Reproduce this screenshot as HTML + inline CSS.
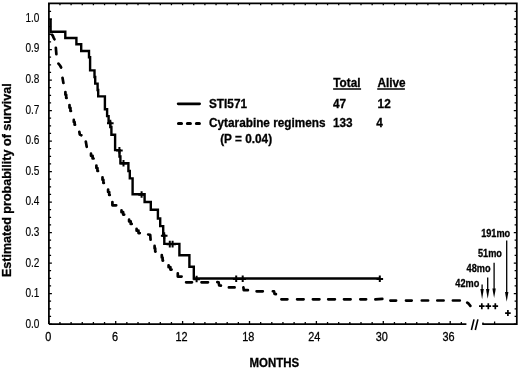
<!DOCTYPE html>
<html><head><meta charset="utf-8"><style>
html,body{margin:0;padding:0;background:#fff;width:520px;height:370px;overflow:hidden}
svg{display:block;position:absolute;left:0;top:0;filter:grayscale(1) blur(0.35px)}
text{font-family:"Liberation Sans",sans-serif;fill:#000}
text[font-weight="bold"]{stroke:#000;stroke-width:0.3px}
</style></head><body>
<svg width="520" height="370" viewBox="0 0 520 370">
<path d="M48.9,324.1 V3.4 H516.8 V324.1 H482.2 M466.4,324.1 H48.9" fill="none" stroke="#000" stroke-width="1.75"/>
<path d="M471.4,330 L474,319.4 M475.3,330 L477.9,319.4" stroke="#000" stroke-width="1.6" fill="none"/>
<path d="M48.8,324.1 v-3.0 M48.8,3.4 v1.9 M59.95,324.1 v-2.1 M59.95,3.4 v1.9 M71.1,324.1 v-2.1 M71.1,3.4 v1.9 M82.25,324.1 v-2.1 M82.25,3.4 v1.9 M93.4,324.1 v-2.1 M93.4,3.4 v1.9 M104.55,324.1 v-2.1 M104.55,3.4 v1.9 M115.7,324.1 v-3.0 M115.7,3.4 v1.9 M126.85,324.1 v-2.1 M126.85,3.4 v1.9 M138,324.1 v-2.1 M138,3.4 v1.9 M149.15,324.1 v-2.1 M149.15,3.4 v1.9 M160.3,324.1 v-2.1 M160.3,3.4 v1.9 M171.45,324.1 v-2.1 M171.45,3.4 v1.9 M182.6,324.1 v-3.0 M182.6,3.4 v1.9 M193.75,324.1 v-2.1 M193.75,3.4 v1.9 M204.9,324.1 v-2.1 M204.9,3.4 v1.9 M216.05,324.1 v-2.1 M216.05,3.4 v1.9 M227.2,324.1 v-2.1 M227.2,3.4 v1.9 M238.35,324.1 v-2.1 M238.35,3.4 v1.9 M249.5,324.1 v-3.0 M249.5,3.4 v1.9 M260.65,324.1 v-2.1 M260.65,3.4 v1.9 M271.8,324.1 v-2.1 M271.8,3.4 v1.9 M282.95,324.1 v-2.1 M282.95,3.4 v1.9 M294.1,324.1 v-2.1 M294.1,3.4 v1.9 M305.25,324.1 v-2.1 M305.25,3.4 v1.9 M316.4,324.1 v-3.0 M316.4,3.4 v1.9 M327.55,324.1 v-2.1 M327.55,3.4 v1.9 M338.7,324.1 v-2.1 M338.7,3.4 v1.9 M349.85,324.1 v-2.1 M349.85,3.4 v1.9 M361,324.1 v-2.1 M361,3.4 v1.9 M372.15,324.1 v-2.1 M372.15,3.4 v1.9 M383.3,324.1 v-3.0 M383.3,3.4 v1.9 M394.45,324.1 v-2.1 M394.45,3.4 v1.9 M405.6,324.1 v-2.1 M405.6,3.4 v1.9 M416.75,324.1 v-2.1 M416.75,3.4 v1.9 M427.9,324.1 v-2.1 M427.9,3.4 v1.9 M439.05,324.1 v-2.1 M439.05,3.4 v1.9 M450.2,324.1 v-3.0 M450.2,3.4 v1.9 M461.35,324.1 v-2.1 M461.35,3.4 v1.9 M472.5,3.4 v1.9 M483.65,3.4 v1.9 M494.8,3.4 v1.9 M505.95,3.4 v1.9 M494.6,324.1 v-2.6 M483,324.1 v-1.6 M48.9,324.1 h3.0 M516.8,324.1 h-3.0 M48.9,316.47 h2.2 M516.8,316.47 h-2.2 M48.9,308.85 h2.2 M516.8,308.85 h-2.2 M48.9,301.22 h2.2 M516.8,301.22 h-2.2 M48.9,293.59 h3.0 M516.8,293.59 h-3.0 M48.9,285.97 h2.2 M516.8,285.97 h-2.2 M48.9,278.34 h2.2 M516.8,278.34 h-2.2 M48.9,270.71 h2.2 M516.8,270.71 h-2.2 M48.9,263.08 h3.0 M516.8,263.08 h-3.0 M48.9,255.46 h2.2 M516.8,255.46 h-2.2 M48.9,247.83 h2.2 M516.8,247.83 h-2.2 M48.9,240.2 h2.2 M516.8,240.2 h-2.2 M48.9,232.58 h3.0 M516.8,232.58 h-3.0 M48.9,224.95 h2.2 M516.8,224.95 h-2.2 M48.9,217.32 h2.2 M516.8,217.32 h-2.2 M48.9,209.7 h2.2 M516.8,209.7 h-2.2 M48.9,202.07 h3.0 M516.8,202.07 h-3.0 M48.9,194.44 h2.2 M516.8,194.44 h-2.2 M48.9,186.81 h2.2 M516.8,186.81 h-2.2 M48.9,179.19 h2.2 M516.8,179.19 h-2.2 M48.9,171.56 h3.0 M516.8,171.56 h-3.0 M48.9,163.93 h2.2 M516.8,163.93 h-2.2 M48.9,156.31 h2.2 M516.8,156.31 h-2.2 M48.9,148.68 h2.2 M516.8,148.68 h-2.2 M48.9,141.05 h3.0 M516.8,141.05 h-3.0 M48.9,133.43 h2.2 M516.8,133.43 h-2.2 M48.9,125.8 h2.2 M516.8,125.8 h-2.2 M48.9,118.17 h2.2 M516.8,118.17 h-2.2 M48.9,110.54 h3.0 M516.8,110.54 h-3.0 M48.9,102.92 h2.2 M516.8,102.92 h-2.2 M48.9,95.29 h2.2 M516.8,95.29 h-2.2 M48.9,87.66 h2.2 M516.8,87.66 h-2.2 M48.9,80.04 h3.0 M516.8,80.04 h-3.0 M48.9,72.41 h2.2 M516.8,72.41 h-2.2 M48.9,64.78 h2.2 M516.8,64.78 h-2.2 M48.9,57.16 h2.2 M516.8,57.16 h-2.2 M48.9,49.53 h3.0 M516.8,49.53 h-3.0 M48.9,41.9 h2.2 M516.8,41.9 h-2.2 M48.9,34.27 h2.2 M516.8,34.27 h-2.2 M48.9,26.65 h2.2 M516.8,26.65 h-2.2 M48.9,19.02 h3.0 M516.8,19.02 h-3.0 M48.9,11.39 h2.2 M516.8,11.39 h-2.2" stroke="#000" stroke-width="1.3" fill="none"/>
<path d="M50.6,18.9 V31.7 H65.3 V38 H76.4 V44.3 H81.2 V51 H89 V57.2 H90.1 V70.4 H94.5 V77 H95.2 V83.6 H97.6 V90 H98.2 V96.4 H104.9 V109.2 H107.1 V116.1 H108.6 V122.7 H110.3 V127 H111.4 V134.8 H115.1 V150.1 H119.5 V156.5 H120.4 V163.2 H128.4 V171 H129.8 V178.4 H132.6 V194.3 H144.6 V202 H150.8 V209.8 H157.9 V218.5 H160.2 V226.1 H163.2 V235.5 H164.3 V243.9 H179.4 V255.2 H189.4 V266.7 H193.8 V278.5 H380" fill="none" stroke="#000" stroke-width="2.4" stroke-linejoin="miter"/>
<path d="M107,123.2 h6.6 M110.3,119.7 v6.6 M116.1,150.5 h6.6 M119.4,147 v6.6 M120.2,163.5 h6.6 M123.5,160 v6.6 M138.3,194.7 h6.6 M141.6,191.2 v6.6 M160.9,235.8 h6.6 M164.2,232.3 v6.6 M166.5,244.3 h6.6 M169.8,240.8 v6.6 M169.3,244.3 h6.6 M172.6,240.8 v6.6 M193.3,279.2 h6.6 M196.6,275.7 v6.6 M232.9,279 h6.6 M236.2,275.5 v6.6 M239.4,279 h6.6 M242.7,275.5 v6.6 M376.5,279 h6.6 M379.8,275.5 v6.6" stroke="#000" stroke-width="2.0" fill="none"/>
<path d="M51.98,34.66 L52.6,35.4 L53.6,37.6 L54.43,39.26 M55.85,47.8 L56.35,54.1 M58.47,63.57 L60,65.5 L61.11,67.48 M62.5,77.79 L63.4,83.01 M65.4,92.1 L65.4,94.75 L66.2,94.75 L66.2,98 L66.64,98 M69.5,105.1 L69.5,107.75 L70.45,107.75 L70.45,111 L70.97,111 M73.8,119.9 L73.8,122 L74.6,122 L74.6,124.7 L75.04,124.7 M79.31,131.79 L79.8,134.5 L81.36,135.24 M85.8,141.59 L86.7,146.81 M91,153.7 L91,155.8 L92.6,155.8 L92.6,158.5 L93.6,158.5 M96.4,165.6 L96.4,168 L97.45,168 L97.45,171 L98.03,171 M102.5,177.3 L102.5,179.85 L103.4,179.85 L103.4,183 L103.89,183 M108.1,189.6 L108.1,192 L109.2,192 L109.2,195 L109.8,195 M112.4,202.1 L112.4,205.3 L116.2,205.3 M121.5,210.4 L121.5,212.2 L123.15,212.2 L123.15,214.6 L124.2,214.6 M129.1,219.6 L129.1,221.45 L130.7,221.45 L130.7,223.9 L131.7,223.9 M136.6,228.8 L136.6,230.65 L138.5,230.65 L138.5,233.1 L139.8,233.1 M148.19,234.49 L150.2,234.8 L150.56,239.7 M154.6,245.9 L154.6,248.45 L155.2,248.45 L155.2,251.6 L155.53,251.6 M161.8,255.1 L161.8,257.55 L162.6,257.55 L162.6,260.6 L163.04,260.6 M168.6,265.3 L168.6,267.15 L170.4,267.15 L170.4,269.6 L171.6,269.6 M177.8,273.4 L177.8,276.6 L181.6,276.6 M186.1,282.3 L192,282.3 M201.5,282.3 L208,282.3 M217.29,282.09 L218.6,282.3 L219.2,285.4 L220.9,285.55 M228.9,287.4 L234.6,287.4 M243.39,287.39 L243.8,290.2 L247.9,290.2 M256.6,291.3 L262.8,291.3 M272.9,291.27 L274,291.4 L274.6,294 L275.9,294.14 M281.4,299.3 L287.4,299.3 M297.1,299.3 L303.6,299.3 M312.9,299.3 L319.4,299.3 M328.2,299.3 L334.9,299.3 M344,299.3 L350.6,299.3 M360.3,299.3 L366.1,299.3 M375.4,299.36 L382.3,298.94 M390.4,300.6 L396.1,300.6 M406,300.6 L411.7,300.6 M421.8,300.5 L428.1,300.5 M437.3,300.5 L443.6,300.5 M452.9,300.5 L459.8,300.5 M467.21,302.71 L468.5,303.5 L470.33,305.83" stroke="#000" stroke-width="2.7" stroke-linecap="round" stroke-linejoin="round" fill="none"/>
<path d="M482.1,284.4 V290" stroke="#000" stroke-width="1.3"/>
<path d="M480.4,289 L483.8,289 L482.1,299.2 Z" fill="#000"/>
<path d="M487.7,277.5 V290" stroke="#000" stroke-width="1.3"/>
<path d="M486,289 L489.4,289 L487.7,298.8 Z" fill="#000"/>
<path d="M494.1,262.8 V289.5" stroke="#000" stroke-width="1.3"/>
<path d="M492.4,288.5 L495.8,288.5 L494.1,298 Z" fill="#000"/>
<path d="M506.7,240.4 V293" stroke="#000" stroke-width="1.3"/>
<path d="M505,292 L508.4,292 L506.7,301.8 Z" fill="#000"/>
<path d="M479,306.2 h5.6 M481.8,303.2 v6 M485.5,306.2 h5.6 M488.3,303.2 v6 M492.5,306.2 h5.6 M495.3,303.2 v6 M505.1,313.1 h5.6 M507.9,310.1 v6" stroke="#000" stroke-width="1.7" fill="none"/>
<path d="M178.2,103.8 H199.6" stroke="#000" stroke-width="2.8" stroke-linecap="round"/>
<path d="M178.5,123.5 H181.5 M187.4,123.5 H190.4 M196.4,123.5 H199.4" stroke="#000" stroke-width="3.1" stroke-linecap="round"/>
<path d="M333.1,89 H361.1 M377.2,89 H404.9" stroke="#000" stroke-width="1.4"/>
<text x="0" y="0" transform="translate(333.2,86.9) scale(0.975,1)" font-size="12.1" font-weight="bold" text-anchor="start" >Total</text>
<text x="0" y="0" transform="translate(377.4,86.9) scale(0.975,1)" font-size="12.1" font-weight="bold" text-anchor="start" >Alive</text>
<text x="0" y="0" transform="translate(209,108.1) scale(0.975,1)" font-size="12.1" font-weight="bold" text-anchor="start" >STI571</text>
<text x="0" y="0" transform="translate(333,108.1) scale(0.975,1)" font-size="12.1" font-weight="bold" text-anchor="start" >47</text>
<text x="0" y="0" transform="translate(377.6,108.1) scale(0.975,1)" font-size="12.1" font-weight="bold" text-anchor="start" >12</text>
<text x="0" y="0" transform="translate(209,126.6) scale(0.975,1)" font-size="12.1" font-weight="bold" text-anchor="start" >Cytarabine regimens</text>
<text x="0" y="0" transform="translate(332.9,126.6) scale(0.975,1)" font-size="12.1" font-weight="bold" text-anchor="start" >133</text>
<text x="0" y="0" transform="translate(376.3,126.6) scale(0.975,1)" font-size="12.1" font-weight="bold" text-anchor="start" >4</text>
<text x="0" y="0" transform="translate(220.2,142.7) scale(0.975,1)" font-size="12.1" font-weight="bold" text-anchor="start" >(P = 0.04)</text>
<text x="0" y="0" transform="translate(39.4,21.7) scale(0.8,1)" font-size="12.6" font-weight="normal" text-anchor="end" stroke="#000" stroke-width="0.15">1.0</text>
<text x="0" y="0" transform="translate(39.4,52.31) scale(0.8,1)" font-size="12.6" font-weight="normal" text-anchor="end" stroke="#000" stroke-width="0.15">0.9</text>
<text x="0" y="0" transform="translate(39.4,82.92) scale(0.8,1)" font-size="12.6" font-weight="normal" text-anchor="end" stroke="#000" stroke-width="0.15">0.8</text>
<text x="0" y="0" transform="translate(39.4,113.53) scale(0.8,1)" font-size="12.6" font-weight="normal" text-anchor="end" stroke="#000" stroke-width="0.15">0.7</text>
<text x="0" y="0" transform="translate(39.4,144.14) scale(0.8,1)" font-size="12.6" font-weight="normal" text-anchor="end" stroke="#000" stroke-width="0.15">0.6</text>
<text x="0" y="0" transform="translate(39.4,174.75) scale(0.8,1)" font-size="12.6" font-weight="normal" text-anchor="end" stroke="#000" stroke-width="0.15">0.5</text>
<text x="0" y="0" transform="translate(39.4,205.36) scale(0.8,1)" font-size="12.6" font-weight="normal" text-anchor="end" stroke="#000" stroke-width="0.15">0.4</text>
<text x="0" y="0" transform="translate(39.4,235.97) scale(0.8,1)" font-size="12.6" font-weight="normal" text-anchor="end" stroke="#000" stroke-width="0.15">0.3</text>
<text x="0" y="0" transform="translate(39.4,266.58) scale(0.8,1)" font-size="12.6" font-weight="normal" text-anchor="end" stroke="#000" stroke-width="0.15">0.2</text>
<text x="0" y="0" transform="translate(39.4,297.19) scale(0.8,1)" font-size="12.6" font-weight="normal" text-anchor="end" stroke="#000" stroke-width="0.15">0.1</text>
<text x="0" y="0" transform="translate(39.4,327.8) scale(0.8,1)" font-size="12.6" font-weight="normal" text-anchor="end" stroke="#000" stroke-width="0.15">0.0</text>
<text x="0" y="0" transform="translate(48.3,341.3) scale(0.88,1)" font-size="12.4" font-weight="normal" text-anchor="middle" stroke="#000" stroke-width="0.3">0</text>
<text x="0" y="0" transform="translate(115,341.3) scale(0.88,1)" font-size="12.4" font-weight="normal" text-anchor="middle" stroke="#000" stroke-width="0.3">6</text>
<text x="0" y="0" transform="translate(181.5,341.3) scale(0.88,1)" font-size="12.4" font-weight="normal" text-anchor="middle" stroke="#000" stroke-width="0.3">12</text>
<text x="0" y="0" transform="translate(248.2,341.3) scale(0.88,1)" font-size="12.4" font-weight="normal" text-anchor="middle" stroke="#000" stroke-width="0.3">18</text>
<text x="0" y="0" transform="translate(314.2,341.3) scale(0.88,1)" font-size="12.4" font-weight="normal" text-anchor="middle" stroke="#000" stroke-width="0.3">24</text>
<text x="0" y="0" transform="translate(381.7,341.3) scale(0.88,1)" font-size="12.4" font-weight="normal" text-anchor="middle" stroke="#000" stroke-width="0.3">30</text>
<text x="0" y="0" transform="translate(448.5,341.3) scale(0.88,1)" font-size="12.4" font-weight="normal" text-anchor="middle" stroke="#000" stroke-width="0.3">36</text>
<text x="0" y="0" transform="translate(274.3,367.3) scale(0.94,1)" font-size="12.2" font-weight="bold" text-anchor="middle" >MONTHS</text>
<text x="0" y="0" font-size="12.55" font-weight="bold" text-anchor="middle" transform="translate(10.9,180.2) rotate(-90)">Estimated probability of survival</text>
<text x="0" y="0" transform="translate(510.2,236.5) scale(0.9,1)" font-size="10.2" font-weight="bold" text-anchor="end" >191mo</text>
<text x="0" y="0" transform="translate(501.9,257) scale(0.9,1)" font-size="10.2" font-weight="bold" text-anchor="end" >51mo</text>
<text x="0" y="0" transform="translate(490.5,271.9) scale(0.9,1)" font-size="10.2" font-weight="bold" text-anchor="end" >48mo</text>
<text x="0" y="0" transform="translate(479.3,287) scale(0.9,1)" font-size="10.2" font-weight="bold" text-anchor="end" >42mo</text>
</svg>
</body></html>
